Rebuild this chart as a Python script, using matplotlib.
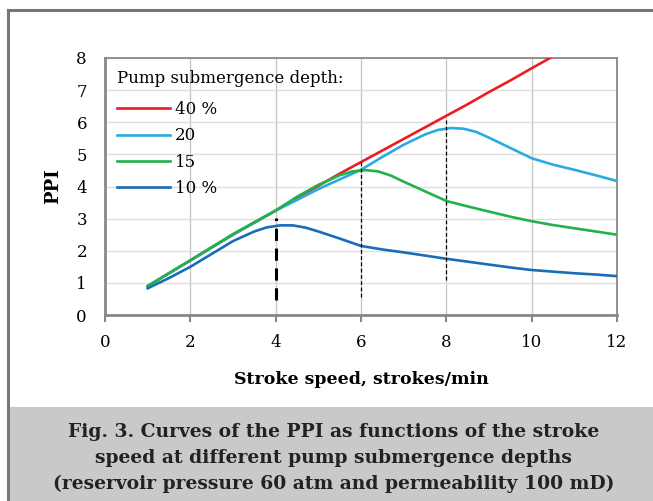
import matplotlib
matplotlib.use("Agg")
import matplotlib.pyplot as plt
from matplotlib.patches import Rectangle
from matplotlib.lines import Line2D

# values
x40 = [1, 1.5, 2, 2.5, 3, 3.5, 4, 4.5, 5, 5.5, 6, 6.5, 7, 7.5, 8, 8.5, 9, 9.5, 10, 10.5]
y40 = [0.9, 1.3, 1.7, 2.1, 2.5, 2.88, 3.25, 3.65, 4.02, 4.4, 4.76, 5.12, 5.48, 5.84, 6.2, 6.56, 6.94, 7.3, 7.68, 8.05]

x20 = [1, 2, 3, 4, 4.5, 5, 5.5, 6, 6.5, 7, 7.5, 7.8, 8.1, 8.4, 8.7, 9, 9.5, 10, 10.5, 11, 11.5, 12]
y20 = [0.9, 1.7, 2.5, 3.25, 3.58, 3.92, 4.22, 4.52, 4.92, 5.3, 5.62, 5.76, 5.82, 5.8, 5.7, 5.52, 5.2, 4.88, 4.68, 4.52, 4.35, 4.17]

x15 = [1, 2, 3, 4, 4.5, 5, 5.5, 5.8, 6.1, 6.4, 6.7, 7, 7.5, 8, 8.5, 9, 9.5, 10, 10.5, 11, 11.5, 12]
y15 = [0.9, 1.7, 2.52, 3.25, 3.68, 4.05, 4.35, 4.47, 4.51, 4.47, 4.34, 4.15, 3.85, 3.55, 3.38, 3.22, 3.06, 2.92, 2.8, 2.7, 2.6, 2.5]

x10 = [1, 1.5, 2, 2.5, 3, 3.5, 3.8, 4.1, 4.4, 4.7, 5, 5.5, 6, 6.5, 7, 7.5, 8, 8.5, 9, 9.5, 10, 10.5, 11, 11.5, 12]
y10 = [0.83, 1.15, 1.5, 1.9, 2.3, 2.6, 2.73, 2.79, 2.79, 2.72, 2.6, 2.38, 2.15, 2.04, 1.95, 1.85, 1.75, 1.66, 1.57, 1.48, 1.4, 1.35, 1.3, 1.26, 1.21]

labels = ["40 %", "20", "15", "10 %"]
colors = ["#ed1c24", "#29abe2", "#22b14c", "#1b6cb8"]

# dashed markers at optimum stroke speeds
vx = [4, 6, 8]
vlow = [0.47, 0.57, 1.08]
vhigh = [3.02, 4.77, 6.1]

caption = ("Fig. 3. Curves of the PPI as functions of the stroke\n"
           "speed at different pump submergence depths\n"
           "(reservoir pressure 60 atm and permeability 100 mD)")

plt.rcParams['font.family'] = ["DejaVu Serif"]

fig = plt.figure(figsize=(6.53, 5.01), dpi=100)

# outer frame and caption box
fig.add_artist(Line2D([8/653, 1], [1 - 9.5/501, 1 - 9.5/501], color="#777777", lw=2.2))
fig.add_artist(Line2D([8/653, 8/653], [0, 1 - 9.5/501], color="#777777", lw=2.2))
fig.add_artist(Rectangle((9/653, 0), 1, 94/501, facecolor="#c9c9c9", edgecolor="none"))
fig.text(0.511, 1 - 458/501, caption, ha="center", va="center", fontsize=13.5,
         fontweight="bold", color="#222222", linespacing=1.55)

ax = fig.add_axes([105/653, 1 - 315/501, 512/653, 257/501])

for xs, ys, c, lab in zip([x40, x20, x15, x10], [y40, y20, y15, y10], colors, labels):
    ax.plot(xs, ys, color=c, lw=1.9, label=lab, zorder=3, solid_joinstyle="round")

ax.vlines(vx[0], vlow[0], vhigh[0], colors="black", lw=2.2, linestyles=(0, (4, 2.5)), zorder=4)
ax.vlines(vx[1:], vlow[1:], vhigh[1:], colors="black", lw=0.9, linestyles=(0, (3, 2)), zorder=4)

ax.set_xlim(0, 12)
ax.set_ylim(0, 8)
ax.set_xticks(range(0, 13, 2))
ax.set_yticks(range(0, 9))
ax.grid(axis="x", color="#c4c4c4", lw=0.9)
ax.grid(axis="y", color="#dddddd", lw=0.9)
ax.set_axisbelow(True)

for s in ["left", "bottom"]:
    ax.spines[s].set_color("#888888")
    ax.spines[s].set_linewidth(2)
for s in ["top", "right"]:
    ax.spines[s].set_color("#888888")
    ax.spines[s].set_linewidth(1.3)

ax.tick_params(axis="x", length=5, width=1.5, color="#888888", labelsize=12, pad=9)
ax.tick_params(axis="y", length=0, labelsize=12, pad=13)

ax.set_xlabel("Stroke speed, strokes/min", fontsize=12.5, fontweight="bold", labelpad=14)
ax.set_ylabel("PPI", fontsize=13, fontweight="bold", labelpad=10)

leg = ax.legend(loc="upper left", title="Pump submergence depth:", frameon=False,
                fontsize=12, title_fontsize=12, handlelength=3.2, handletextpad=0.3,
                labelspacing=0.55, borderaxespad=0.45, borderpad=0.25)
leg._legend_box.align = "left"
leg._legend_box.sep = 10.5

fig.savefig("out.png", dpi=100)
